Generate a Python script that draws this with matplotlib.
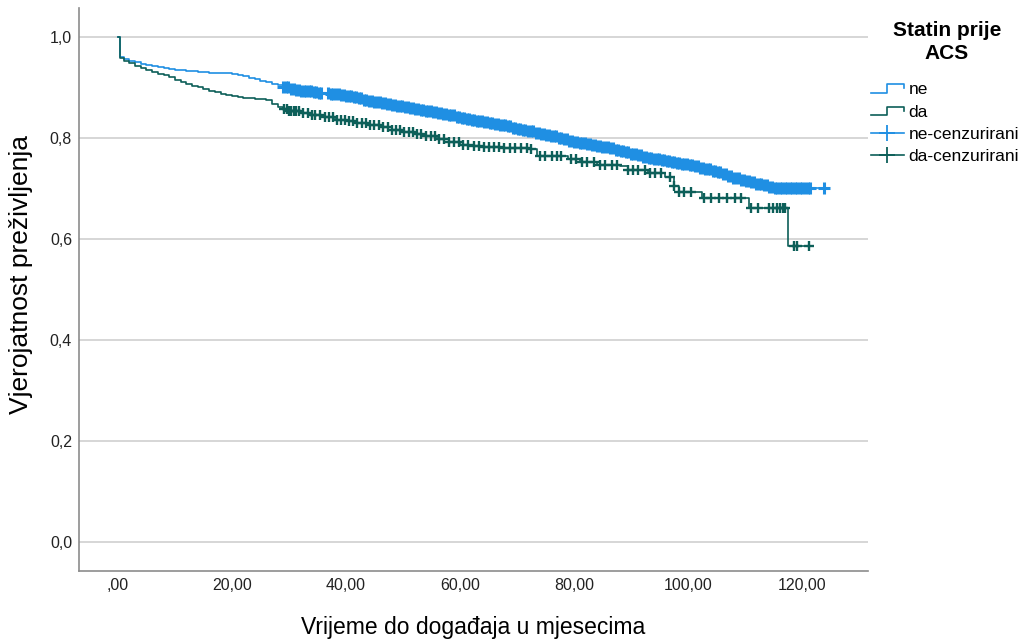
import numpy as np
import matplotlib
matplotlib.use("Agg")
import matplotlib.pyplot as plt
from matplotlib.lines import Line2D
from matplotlib.legend_handler import HandlerBase

plt.rcParams['font.family'] = ['Liberation Sans', 'DejaVu Sans']

# ---------------- data ----------------
legend_title = "Statin prije\nACS"
group_labels = ["ne", "da"]
censor_labels = ["ne-cenzurirani", "da-cenzurirani"]

# Kaplan-Meier step knots: time (months) and survival after the step
ne_times = [0.0, 0.3, 1, 2, 3, 4, 5, 6, 7, 8, 9, 10, 11, 12, 13, 14, 15, 16, 18, 20, 21, 22,
            23, 24, 25, 26, 27, 28,
            29, 30, 31, 32, 33, 34, 35, 36, 37, 38, 39, 40, 41, 42, 43, 44, 45, 46, 47, 48,
            49, 50, 51, 52, 53, 54, 55, 56, 57, 58, 59, 60, 61, 62, 63, 64, 65, 66, 67, 68,
            69, 70, 71, 72, 73, 74, 75, 76, 77, 78, 79, 80, 81, 82, 83, 84, 85, 86, 87, 88,
            89, 90, 91, 92, 93, 94, 95, 96, 97, 98, 99, 100, 101, 102, 103, 104, 105, 106,
            107, 108, 109, 110, 111, 112, 113, 114, 115, 123.8]
ne_surv = [1.0, 0.960, 0.957, 0.953, 0.950, 0.947, 0.944, 0.942, 0.940, 0.938, 0.937, 0.935,
           0.934, 0.933, 0.932, 0.931, 0.930, 0.929, 0.928, 0.927, 0.925, 0.922, 0.919,
           0.916, 0.913, 0.910, 0.907, 0.904,
           0.900, 0.898, 0.896, 0.894, 0.893, 0.891, 0.890, 0.889, 0.888, 0.887, 0.885,
           0.884, 0.881, 0.879, 0.876, 0.874, 0.872, 0.870, 0.868, 0.866, 0.863, 0.861,
           0.859, 0.857, 0.855, 0.853, 0.851, 0.849, 0.847, 0.845, 0.842, 0.840, 0.838,
           0.836, 0.834, 0.832, 0.830, 0.828, 0.825, 0.823, 0.820, 0.818, 0.815, 0.813,
           0.810, 0.808, 0.805, 0.803, 0.800, 0.798, 0.795, 0.792, 0.790, 0.789, 0.787,
           0.785, 0.782, 0.780, 0.777, 0.775, 0.772, 0.769, 0.766, 0.763, 0.761, 0.759,
           0.757, 0.755, 0.753, 0.751, 0.749, 0.747, 0.744, 0.741, 0.738, 0.735, 0.732,
           0.729, 0.725, 0.721, 0.717, 0.714, 0.712, 0.709, 0.706, 0.703, 0.701, 0.701]

da_times = [0.0, 0.3, 1, 2, 3, 4, 5, 6, 7, 8, 9, 10, 11, 12, 13, 14, 15, 16, 17, 18, 19, 20,
            21, 22, 24, 26, 27, 28, 29, 30, 32, 34, 36, 38, 40, 42, 44, 46, 48, 50, 52, 54,
            56, 58, 60, 62, 64, 67, 72, 73.5, 79, 81, 84, 88, 89.5, 93, 96, 97.5, 98.5,
            102.5, 110.7, 117.5, 121.7]
da_surv = [1.0, 0.958, 0.953, 0.948, 0.943, 0.938, 0.934, 0.930, 0.927, 0.924, 0.920, 0.915,
           0.910, 0.906, 0.903, 0.900, 0.897, 0.894, 0.891, 0.888, 0.886, 0.884, 0.882,
           0.880, 0.878, 0.875, 0.868, 0.862, 0.857, 0.853, 0.849, 0.845, 0.841, 0.836,
           0.833, 0.829, 0.826, 0.822, 0.816, 0.812, 0.808, 0.803, 0.798, 0.792, 0.787,
           0.784, 0.783, 0.781, 0.778, 0.764, 0.758, 0.752, 0.747, 0.744, 0.736, 0.731,
           0.722, 0.705, 0.693, 0.681, 0.661, 0.587, 0.587]

# censored observation times (months)
ne_censor = [29.0, 29.4, 29.9, 30.3, 30.8, 31.2, 31.7, 32.1, 32.6, 33.0, 33.5, 33.9, 34.4, 34.8,
             35.3, 35.7, 36.9, 37.3, 37.8, 38.2, 38.7, 39.1, 39.6, 40.0, 40.5, 40.9, 41.4,
             41.8, 42.3, 42.7, 43.2, 43.6, 44.1, 44.5, 45.0, 45.4, 45.9, 46.3, 46.8, 47.2,
             47.7, 48.1, 48.6, 49.0, 49.5, 49.9, 50.4, 50.8, 51.3, 51.7, 52.2, 52.6, 53.1,
             53.5, 54.0, 54.4, 54.9, 55.3, 55.8, 56.2, 56.7, 57.1, 57.6, 58.0, 58.5, 58.9,
             59.4, 59.8, 60.3, 60.7, 61.2, 61.6, 62.1, 62.5, 63.0, 63.4, 63.9, 64.3, 64.8,
             65.2, 65.7, 66.1, 66.6, 67.0, 67.5, 67.9, 68.4, 68.8, 69.3, 69.7, 70.2, 70.6,
             71.1, 71.5, 72.0, 72.4, 72.9, 73.3, 73.8, 74.2, 74.7, 75.1, 75.6, 76.0, 76.5,
             76.9, 77.4, 77.8, 78.3, 78.7, 79.2, 79.6, 80.1, 80.5, 81.0, 81.4, 81.9, 82.3,
             82.8, 83.2, 83.7, 84.1, 84.6, 85.0, 85.5, 85.9, 86.4, 86.8, 87.3, 87.7, 88.2,
             88.6, 89.1, 89.5, 90.0, 90.4, 90.9, 91.3, 91.8, 92.2, 92.7, 93.1, 93.6, 94.0,
             94.5, 94.9, 95.4, 95.8, 96.3, 96.7, 97.2, 97.6, 98.1, 98.5, 99.0, 99.4, 99.9,
             100.3, 100.8, 101.2, 101.7, 102.1, 102.6, 103.0, 103.5, 103.9, 104.4, 104.8,
             105.3, 105.7, 106.2, 106.6, 107.1, 107.5, 108.0, 108.4, 108.9, 109.3, 109.8,
             110.2, 110.7, 111.1, 111.6, 112.0, 112.5, 112.9, 113.4, 113.8, 114.3, 114.7,
             115.2, 115.6, 116.1, 116.5, 117.0, 117.4, 117.9, 118.3, 118.8, 119.2, 119.7,
             120.1, 120.6, 121.0, 121.4, 123.8]
da_censor = [29.2, 29.6, 30.0, 30.4, 30.9, 31.3, 31.8, 32.5, 33.4, 34.0, 34.6, 35.5, 36.3, 37.0,
             37.8, 38.4, 39.2, 39.9, 40.6, 41.3, 42.0, 42.8, 43.6, 44.3, 45.0, 45.8, 46.5,
             47.3, 48.0, 48.8, 49.5, 50.2, 51.0, 51.8, 52.5, 53.2, 54.0, 54.9, 55.6, 56.4,
             57.2, 58.0, 59.0, 59.8, 60.6, 61.5, 62.4, 63.3, 64.2, 65.1, 66.0, 66.9, 67.8,
             68.7, 69.6, 70.8, 71.7, 72.5, 74.0, 75.0, 76.2, 77.0, 77.8, 79.4, 80.3, 81.5,
             82.3, 83.5, 84.6, 85.4, 86.7, 87.6, 89.5, 90.4, 91.3, 92.4, 93.4, 94.3, 95.2,
             96.8, 97.6, 98.5, 99.3, 100.5, 102.8, 104.0, 105.5, 106.8, 108.2, 109.4, 111.0,
             112.3, 114.2, 115.0, 115.6, 116.1, 116.6, 117.0, 118.6, 119.1, 121.2]

x_ticks = [0, 20, 40, 60, 80, 100, 120]
x_ticklabels = [",00", "20,00", "40,00", "60,00", "80,00", "100,00", "120,00"]
y_ticks = [0.0, 0.2, 0.4, 0.6, 0.8, 1.0]
y_ticklabels = ["0,0", "0,2", "0,4", "0,6", "0,8", "1,0"]

colors = ["#1f8fe3", "#0d5f59"]

# ---------------- figure ----------------
fig = plt.figure(figsize=(10.24, 6.41), dpi=100)
ax = fig.add_axes([79/1024, 1 - 571/641, (868-79)/1024, (571-8)/641])

ax.set_xlim(-6.84, 131.6)
ax.set_ylim(-0.0574, 1.0574)

for yt in y_ticks:
    ax.axhline(yt, color="#cfcfcf", lw=1.2, zorder=0)

def step_value(times, surv, t):
    idx = np.searchsorted(np.asarray(times), t, side="right") - 1
    return np.asarray(surv)[idx]

series = [(ne_times, ne_surv, ne_censor), (da_times, da_surv, da_censor)]
mews = [2.2, 1.7]
msizes = [8.5, 7.5]
for (tt, ss, cc), col, mw, msz in zip(series, colors, mews, msizes):
    ax.step(tt, ss, where="post", color=col, lw=1.2, zorder=3)
    cy = step_value(tt, ss, cc)
    ax.plot(cc, cy, ls="none", marker="+", ms=msz, mew=mw, color=col, zorder=4)

ax.set_xticks(x_ticks)
ax.set_xticklabels(x_ticklabels)
ax.set_yticks(y_ticks)
ax.set_yticklabels(y_ticklabels)
ax.tick_params(length=0, labelsize=11.5, colors="#222222")
ax.tick_params(axis="x", pad=5)
ax.tick_params(axis="y", pad=5)

for s in ["top", "right"]:
    ax.spines[s].set_visible(False)
for s in ["left", "bottom"]:
    ax.spines[s].set_color("#8c8c8c")
    ax.spines[s].set_linewidth(1.2)

ax.set_xlabel("Vrijeme do događaja u mjesecima", fontsize=16.5)
ax.xaxis.set_label_coords(0.5, -0.080)
ax.set_ylabel("Vjerojatnost preživljenja", fontsize=19)
ax.yaxis.set_label_coords(-0.058, 0.527)

class StepHandler(HandlerBase):
    def create_artists(self, legend, orig_handle, xdescent, ydescent, width, height,
                       fontsize, trans):
        x0, y0 = -xdescent, -ydescent
        xs = [x0, x0 + 0.5*width, x0 + 0.5*width, x0 + width, x0 + width]
        ys = [y0 + 0.1*height, y0 + 0.1*height, y0 + 0.8*height, y0 + 0.8*height,
              y0 + 0.5*height]
        ln = Line2D(xs, ys, color=orig_handle.get_color(), lw=1.2, transform=trans)
        return [ln]

# legend title
fig.text(947/1024, 1 - 42/641, legend_title, ha="center", va="center", fontsize=15,
         fontweight="bold", linespacing=1.25, multialignment="center")

handles = [Line2D([], [], color=colors[0]), Line2D([], [], color=colors[1]),
           Line2D([], [], ls="-", marker="+", ms=11, mew=1.3, color=colors[0], lw=1.2),
           Line2D([], [], ls="-", marker="+", ms=11, mew=1.3, color=colors[1], lw=1.2)]
labels = group_labels + censor_labels
leg = fig.legend(handles, labels, loc="upper left",
                 bbox_to_anchor=(871/1024, 1 - 82/641), frameon=False, fontsize=12.5,
                 handlelength=1.9, handletextpad=0.25, labelspacing=0.42, borderpad=0.0,
                 borderaxespad=0.0,
                 handler_map={handles[0]: StepHandler(), handles[1]: StepHandler()})

fig.savefig("out.png", dpi=100)
